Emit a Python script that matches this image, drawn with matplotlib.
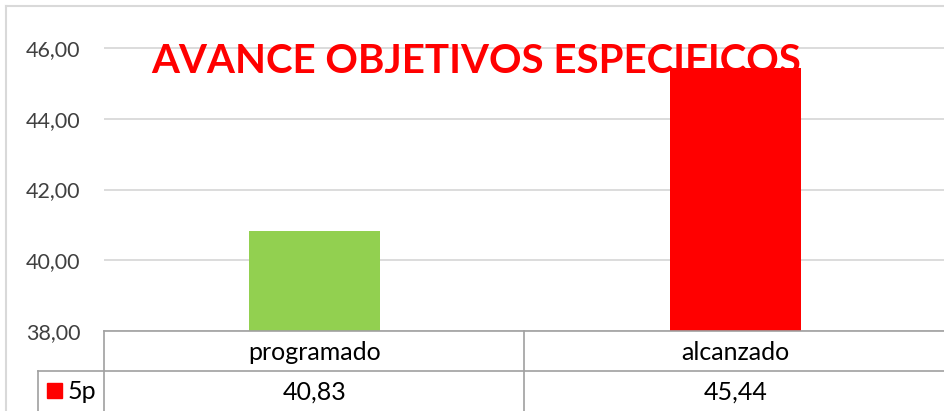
import matplotlib
matplotlib.use("Agg")
import matplotlib.pyplot as plt
from matplotlib.lines import Line2D
from matplotlib.patches import Rectangle

# datos del grafico
categorias = ["programado", "alcanzado"]
valores = [40.83, 45.44]
colores = ["#92D050", "#FF0000"]
serie = "5p"
titulo = "AVANCE OBJETIVOS ESPECIFICOS"
y_ticks = [38, 40, 42, 44, 46]

W, H = 944, 411
plt.rcParams['font.family'] = ['Lato', 'DejaVu Sans']


def fx(px):
    return px / W


def fy(py):
    return 1 - py / H


fig = plt.figure(figsize=(W / 100, H / 100), dpi=100)

# area del grafico (escala: 35.4 px por unidad)
px_unit = 35.375
ax = fig.add_axes([fx(104), fy(331), 842 / W, (331 - 6) / H])
ax.set_xlim(-0.5, len(categorias) - 0.5)
ax.set_ylim(38, 38 + 325 / px_unit)

x = list(range(len(categorias)))
ax.bar(x, [v - 38 for v in valores], bottom=38, width=0.313, color=colores, zorder=2)

ax.set_yticks(y_ticks)
ax.set_yticklabels([f"{t:.2f}".replace(".", ",") for t in y_ticks], fontsize=15.5, color="#404040")
ax.set_xticks([])
ax.tick_params(axis="y", length=0, pad=17)
ax.yaxis.grid(True, color="#D9D9D9", lw=1.3, zorder=0)
ax.set_axisbelow(True)
for s in ax.spines.values():
    s.set_visible(False)

# titulo por debajo de las barras
ax.text((476 - 104) / 842, 1 - (61 - 6) / 325, titulo, transform=ax.transAxes, ha="center",
        va="center", fontsize=29, fontweight="bold", color="#FF0000", zorder=1.5)

# borde del grafico
fig.add_artist(Line2D([fx(6), fx(6)], [fy(6), 0], color="#D9D9D9", lw=1.5))
fig.add_artist(Line2D([fx(6), 1], [fy(6), fy(6)], color="#D9D9D9", lw=1.5))

# tabla de datos
gris = "#A0A0A0"
fig.add_artist(Line2D([fx(104), 1], [fy(331), fy(331)], color=gris, lw=1.2))
fig.add_artist(Line2D([fx(38), 1], [fy(371), fy(371)], color=gris, lw=1.2))
fig.add_artist(Line2D([fx(104), fx(104)], [fy(331), 0], color=gris, lw=1.2))
fig.add_artist(Line2D([fx(524), fx(524)], [fy(331), 0], color=gris, lw=1.2))
fig.add_artist(Line2D([fx(38), fx(38)], [fy(371), 0], color=gris, lw=1.2))

for i, (cat, val) in enumerate(zip(categorias, valores)):
    cx = 104 + 421 * (i + 0.5)
    fig.text(fx(cx), fy(352), cat, ha="center", va="center", fontsize=18, color="black")
    fig.text(fx(cx), fy(392), f"{val:.2f}".replace(".", ","), ha="center", va="center",
             fontsize=18, color="black")

fig.add_artist(Rectangle((fx(47), fy(398)), 15 / W, 15 / H, color="#FF0000"))
fig.text(fx(68), fy(391), serie, ha="left", va="center", fontsize=18, color="black")

fig.savefig("out.png", dpi=100)
